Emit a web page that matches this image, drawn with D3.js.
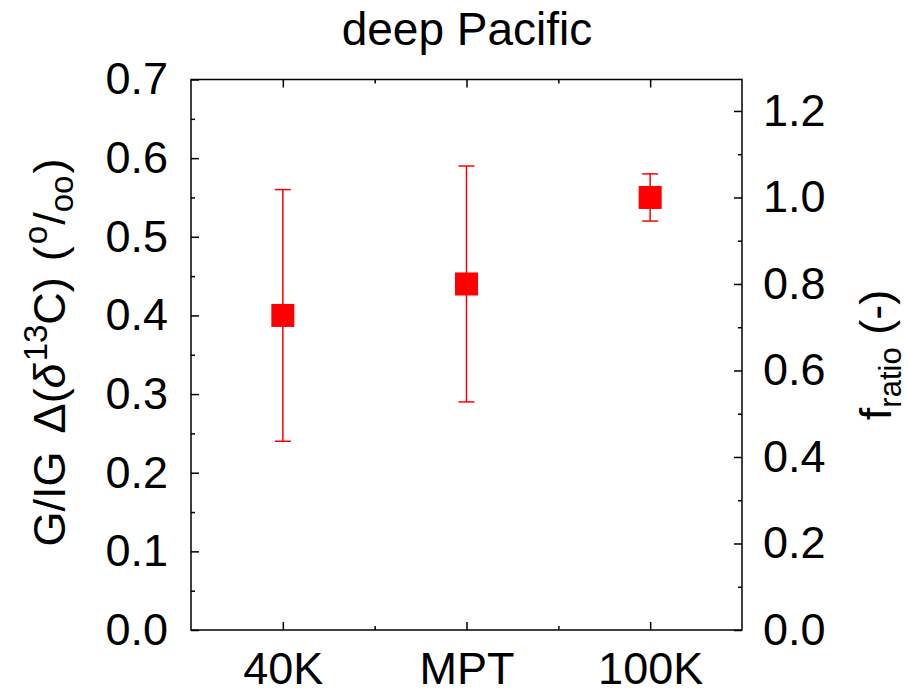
<!DOCTYPE html>
<html>
<head>
<meta charset="utf-8">
<script src="https://cdn.jsdelivr.net/npm/d3@7"></script>
<style>
  html, body { margin: 0; padding: 0; background: #fff; }
  svg { display: block; font-family: "Liberation Sans", Arial, sans-serif; }
</style>
</head>
<body>
<svg id="chart" width="908" height="691"></svg>
<script>
// ---- data ----
const categories = ["40K", "MPT", "100K"];
const values = [0.40, 0.44, 0.55];
const errLow = [0.24, 0.29, 0.52];
const errHigh = [0.56, 0.59, 0.58];
const leftTicks = [0.0, 0.1, 0.2, 0.3, 0.4, 0.5, 0.6, 0.7];
const rightTicks = [0.0, 0.2, 0.4, 0.6, 0.8, 1.0, 1.2];
const title = "deep Pacific";

// ---- layout ----
const svg = d3.select("#chart");
const L = 191, R = 742, T = 79.5, B = 630;
const fs = 45;

const x = d3.scaleLinear().domain([0.5, categories.length + 0.5]).range([L, R]);
const yL = d3.scaleLinear().domain([0, 0.7]).range([B, T]);
const yR = d3.scaleLinear().domain([0, 0.7 / 0.55]).range([B, T]);

const catIdx = categories.map((c, i) => i + 1);
const catMinor = d3.range(1.5, categories.length, 1);
const leftMinor = leftTicks.slice(0, -1).map(v => v + 0.05);
const rightMinor = rightTicks.map(v => v + 0.1).filter(v => v < 0.7 / 0.55);

function styleAxis(g) {
  g.select(".domain").remove();
  g.selectAll(".tick line").attr("stroke", "#000").attr("stroke-width", 1.5);
  g.selectAll(".tick text").attr("font-size", fs).attr("fill", "#000")
    .attr("font-family", "Liberation Sans, Arial, sans-serif");
}

// left axis
svg.append("g").attr("transform", `translate(${L},0)`)
  .call(d3.axisLeft(yL).tickValues(leftTicks).tickFormat(d3.format(".1f")).tickSizeInner(-8).tickSizeOuter(0).tickPadding(23))
  .call(styleAxis);
svg.append("g").attr("transform", `translate(${L},0)`)
  .call(d3.axisLeft(yL).tickValues(leftMinor).tickFormat("").tickSizeInner(-4).tickSizeOuter(0))
  .call(styleAxis);

// right axis
svg.append("g").attr("transform", `translate(${R},0)`)
  .call(d3.axisRight(yR).tickValues(rightTicks).tickFormat(d3.format(".1f")).tickSizeInner(-8).tickSizeOuter(0).tickPadding(21))
  .call(styleAxis);
svg.append("g").attr("transform", `translate(${R},0)`)
  .call(d3.axisRight(yR).tickValues(rightMinor).tickFormat("").tickSizeInner(-4).tickSizeOuter(0))
  .call(styleAxis);

// bottom axis
svg.append("g").attr("transform", `translate(0,${B})`)
  .call(d3.axisBottom(x).tickValues(catIdx).tickFormat((d, i) => categories[i]).tickSizeInner(-8).tickSizeOuter(0).tickPadding(22))
  .call(styleAxis);
svg.append("g").attr("transform", `translate(0,${B})`)
  .call(d3.axisBottom(x).tickValues(catMinor).tickFormat("").tickSizeInner(-4).tickSizeOuter(0))
  .call(styleAxis);

// top axis
svg.append("g").attr("transform", `translate(0,${T})`)
  .call(d3.axisTop(x).tickValues(catIdx).tickFormat("").tickSizeInner(-8).tickSizeOuter(0))
  .call(styleAxis);
svg.append("g").attr("transform", `translate(0,${T})`)
  .call(d3.axisTop(x).tickValues(catMinor).tickFormat("").tickSizeInner(-4).tickSizeOuter(0))
  .call(styleAxis);

// frame
svg.append("rect").attr("x", L).attr("y", T).attr("width", R - L).attr("height", B - T)
  .attr("fill", "none").attr("stroke", "#000").attr("stroke-width", 1.5);

// error bars and markers
const data = categories.map((c, i) => ({ c, i: i + 1, v: values[i], lo: errLow[i], hi: errHigh[i] }));
const red = "#ff0000";
const eg = svg.append("g");
eg.selectAll("line.stem").data(data).join("line")
  .attr("x1", d => x(d.i)).attr("x2", d => x(d.i))
  .attr("y1", d => yL(d.lo)).attr("y2", d => yL(d.hi))
  .attr("stroke", red).attr("stroke-width", 1.5);
eg.selectAll("line.capHi").data(data).join("line")
  .attr("x1", d => x(d.i) - 8).attr("x2", d => x(d.i) + 8)
  .attr("y1", d => yL(d.hi)).attr("y2", d => yL(d.hi))
  .attr("stroke", red).attr("stroke-width", 1.5);
eg.selectAll("line.capLo").data(data).join("line")
  .attr("x1", d => x(d.i) - 8).attr("x2", d => x(d.i) + 8)
  .attr("y1", d => yL(d.lo)).attr("y2", d => yL(d.lo))
  .attr("stroke", red).attr("stroke-width", 1.5);
eg.selectAll("rect").data(data).join("rect")
  .attr("x", d => x(d.i) - 11.5).attr("y", d => yL(d.v) - 11.5)
  .attr("width", 23).attr("height", 23).attr("fill", red);

// title
svg.append("text").attr("x", 467).attr("y", 45).attr("text-anchor", "middle")
  .attr("font-size", 46).attr("fill", "#000").text(title);

// left axis label
const ll = svg.append("text").attr("transform", "translate(65,352.5) rotate(-90)")
  .attr("text-anchor", "middle").attr("font-size", fs).attr("fill", "#000");
ll.append("tspan").text("G/IG");
ll.append("tspan").attr("dx", 18).text("\u0394(");
ll.append("tspan").attr("font-style", "italic").text("\u03b4");
ll.append("tspan").attr("font-size", 33).attr("dy", -18).attr("dx", 2).text("13");
ll.append("tspan").attr("dy", 18).text("C)");
ll.append("tspan").attr("dx", 16).text("(");
ll.append("tspan").attr("font-size", 33).attr("dy", -18).attr("dx", 2).text("o");
ll.append("tspan").attr("dy", 18).attr("dx", 1).text("/");
ll.append("tspan").attr("font-size", 33).attr("dy", 8).text("oo");
ll.append("tspan").attr("dy", -8).attr("dx", 2).text(")");

// right axis label
const rl = svg.append("text").attr("transform", "translate(891,355) rotate(-90)")
  .attr("text-anchor", "middle").attr("font-size", fs).attr("fill", "#000");
rl.append("tspan").text("f");
rl.append("tspan").attr("font-size", 31).attr("dy", 10).text("ratio");
rl.append("tspan").attr("dy", -10).text(" (-)");
</script>
</body>
</html>
